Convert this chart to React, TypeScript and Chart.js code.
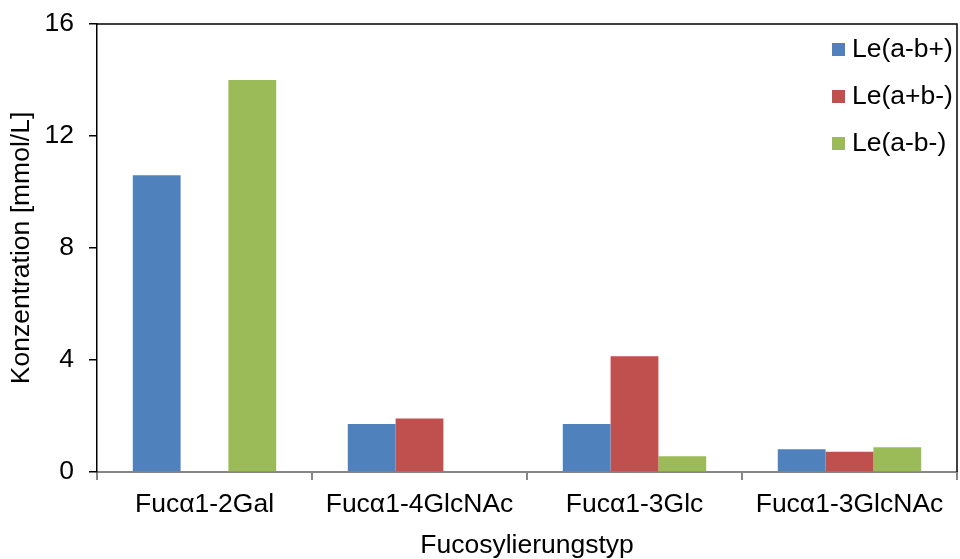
import React, { useEffect, useRef } from "react";
import { Chart, registerables } from "chart.js";

Chart.register(...registerables);

const categories = ["Fucα1-2Gal", "Fucα1-4GlcNAc", "Fucα1-3Glc", "Fucα1-3GlcNAc"];
const seriesNames = ["Le(a-b+)", "Le(a+b-)", "Le(a-b-)"];
const leABplus = [10.6, 1.71, 1.71, 0.81];
const leAplusBminus = [0, 1.91, 4.13, 0.72];
const leABminus = [14.0, 0, 0.56, 0.88];
const yTicks = [0, 4, 8, 12, 16];
const colors = ["#4F81BD", "#C0504D", "#9BBB59"];

const FONT = "'Liberation Sans', Arial, sans-serif";
const FS = 26.5;

const framePlugin = {
  id: "frame",
  afterDraw(chart: any) {
    const { ctx, chartArea } = chart;
    ctx.save();
    ctx.strokeStyle = "#000";
    ctx.lineWidth = 1.5;
    ctx.beginPath();
    ctx.moveTo(chartArea.left, chartArea.top);
    ctx.lineTo(chartArea.right, chartArea.top);
    ctx.lineTo(chartArea.right, chartArea.bottom);
    ctx.stroke();
    // legend
    const ds = chart.data.datasets;
    ctx.font = `${FS}px ${FONT}`;
    ctx.textBaseline = "middle";
    ctx.textAlign = "left";
    const textX = chartArea.right - 105;
    for (let i = 0; i < ds.length; i++) {
      const y = chartArea.top + 25 + i * 47;
      ctx.fillStyle = ds[i].backgroundColor;
      ctx.fillRect(textX - 20, y - 6, 13, 13);
      ctx.fillStyle = "#000";
      ctx.fillText(ds[i].label, textX, y + 1);
    }
    ctx.restore();
  },
};

export default function App() {
  const ref = useRef<HTMLCanvasElement>(null);
  useEffect(() => {
    document.body.style.margin = "0";
    const values = [leABplus, leAplusBminus, leABminus];
    const chart = new Chart(ref.current!, {
      type: "bar",
      data: {
        labels: categories,
        datasets: seriesNames.map((n, i) => ({
          label: n,
          data: values[i],
          backgroundColor: colors[i],
          borderWidth: 0,
          categoryPercentage: 0.667,
          barPercentage: 1.0,
        })),
      },
      options: {
        animation: false,
        responsive: false,
        maintainAspectRatio: false,
        layout: { padding: { left: 0, right: 3, top: 24, bottom: 0 } },
        plugins: { legend: { display: false }, tooltip: { enabled: false } },
        scales: {
          x: {
            grid: {
              display: true,
              drawOnChartArea: false,
              drawTicks: true,
              tickLength: 8,
              color: "#868686",
              lineWidth: 2,
              offset: true,
            },
            border: { color: "#868686", width: 2 },
            ticks: { color: "#000", font: { family: FONT, size: FS }, padding: 9 },
            title: {
              display: true,
              text: "Fucosylierungstyp",
              color: "#000",
              font: { family: FONT, size: FS, lineHeight: 1.0 },
              padding: { top: 0, bottom: 0 },
            },
            afterFit: (s: any) => {
              s.height = 559 - 472;
              s.paddingLeft = 0;
              s.paddingRight = 0;
            },
          },
          y: {
            min: 0,
            max: 16,
            afterBuildTicks: (s: any) => {
              s.ticks = yTicks.map((v) => ({ value: v }));
            },
            grid: {
              display: true,
              drawOnChartArea: false,
              drawTicks: true,
              tickLength: 8,
              color: "#000",
              lineWidth: 1.5,
            },
            border: { color: "#000", width: 1.5 },
            ticks: { color: "#000", font: { family: FONT, size: FS }, padding: 15 },
            title: {
              display: true,
              text: "Konzentration [mmol/L]",
              color: "#000",
              font: { family: FONT, size: FS },
              padding: { top: 6, bottom: 0 },
            },
            afterFit: (s: any) => {
              s.width = 97;
              s.paddingTop = 0;
              s.paddingBottom = 0;
            },
          },
        },
      },
      plugins: [framePlugin],
    });
    return () => chart.destroy();
  }, []);
  return (
    <div style={{ width: 960, height: 559 }}>
      <canvas ref={ref} width={960} height={559} style={{ display: "block" }} />
    </div>
  );
}
